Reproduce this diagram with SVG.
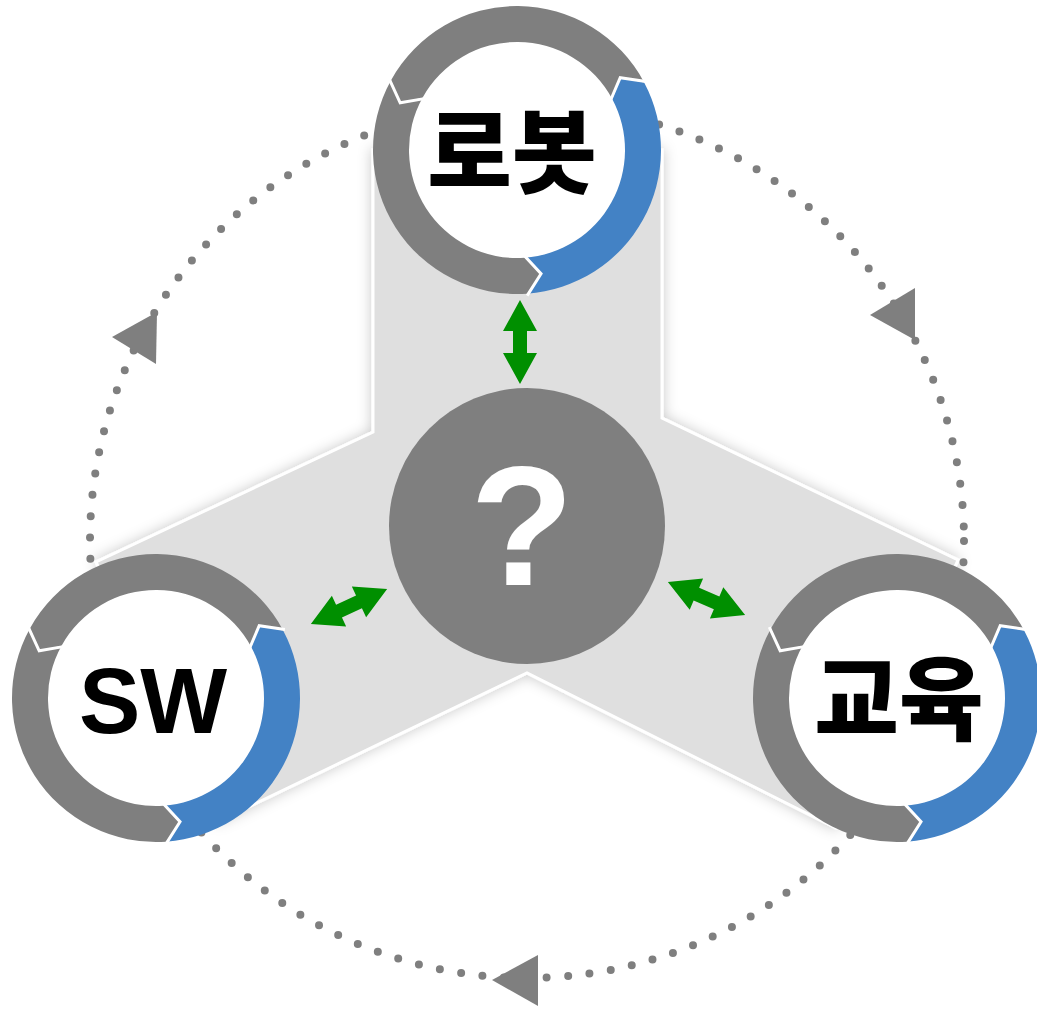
<svg xmlns="http://www.w3.org/2000/svg" xmlns:xlink="http://www.w3.org/1999/xlink" width="1037" height="1009" viewBox="0 0 1037 1009">
<style>
.gray{fill:#7f7f7f}
.blue{fill:#4382c5}
.sep{fill:none;stroke:#ffffff;stroke-width:3;stroke-linejoin:miter}
.disc{fill:#ffffff}
.dots{fill:none;stroke:#7f7f7f;stroke-width:8;stroke-linecap:round;stroke-dasharray:0 21.5}
.tri{fill:#7f7f7f}
.garrow{fill:#008f00}
.ko{font-family:"Noto Sans CJK KR","Noto Sans",sans-serif;font-weight:900;font-size:92px;fill:#000;text-anchor:middle}
.en{font-family:"Liberation Sans",Arial,sans-serif;font-weight:700;font-size:92px;fill:#000;text-anchor:middle}
.q{font-family:"Liberation Sans",Arial,sans-serif;font-weight:700;font-size:170px;fill:#fff;text-anchor:middle}
</style>
<defs>
<filter id="shadow" x="-10%" y="-10%" width="120%" height="120%">
<feGaussianBlur in="SourceAlpha" stdDeviation="7"/>
<feOffset dx="0" dy="0" result="b"/>
<feFlood flood-color="#000" flood-opacity="0.22"/>
<feComposite in2="b" operator="in"/>
<feMerge><feMergeNode/><feMergeNode in="SourceGraphic"/></feMerge>
</filter>
<g id="ring">
<circle class="disc" r="110"/>
<path class="blue" d="M10.05,143.65 A144,144 0 0 0 127.14,-67.60 L103.21,-72.27 L95.36,-50.70 A108,108 0 0 1 7.53,107.74 L24.04,123.69 Z"/>
<path class="gray" d="M127.14,-67.60 A144,144 0 0 0 -125.95,-69.81 L-116.82,-47.20 L-94.46,-52.36 A108,108 0 0 1 95.36,-50.70 L103.21,-72.27 Z"/>
<path class="gray" d="M-125.95,-69.81 A144,144 0 0 0 10.05,143.65 L24.04,123.69 L7.53,107.74 A108,108 0 0 1 -94.46,-52.36 L-116.82,-47.20 Z"/>
<polyline class="sep" points="10.19,145.64 24.04,123.69 7.39,105.74"/>
<polyline class="sep" points="128.91,-68.54 103.21,-72.27 93.59,-49.76"/>
<polyline class="sep" points="-127.70,-70.78 -116.82,-47.20 -92.71,-51.39"/>
</g>
<path id="dbl" class="garrow" d="M-42,0 L-11,-17 L-11,-7 L11,-7 L11,-17 L42,0 L11,17 L11,7 L-11,7 L-11,17 Z"/>
</defs>
<rect width="1037" height="1009" fill="#ffffff"/>
<g id="band">
<polygon points="373,150 662,150 662,418 958,560 836,828 527,673 217,822 96,562 373,432" fill="#dfdfdf" stroke="#ffffff" stroke-width="3" filter="url(#shadow)"/>
</g>
<g id="connectors">
<circle class="dots" cx="527" cy="541" r="437"/>
<polygon class="tri" points="112,337 157,312 156,364"/>
<polygon class="tri" points="870,315 915,288 915,340"/>
<polygon class="tri" points="492,980 538,955 538,1006"/>
<use xlink:href="#dbl" href="#dbl" transform="translate(520,342) rotate(90)"/>
<use xlink:href="#dbl" href="#dbl" transform="translate(349,606.5) rotate(-24.8)"/>
<use xlink:href="#dbl" href="#dbl" transform="translate(706.5,598.5) rotate(23.2)"/>
</g>
<g id="node-robot">
<use xlink:href="#ring" href="#ring" transform="translate(517,150)"/>
<text class="ko" x="512" y="186">로봇</text>
</g>
<g id="node-sw">
<use xlink:href="#ring" href="#ring" transform="translate(156,698)"/>
<text class="en" x="153" y="733">SW</text>
</g>
<g id="node-edu">
<use xlink:href="#ring" href="#ring" transform="translate(897,698)"/>
<text class="ko" x="899" y="733">교육</text>
</g>
<g id="node-center">
<circle cx="527" cy="526" r="138" fill="#7f7f7f"/>
<text class="q" x="522" y="585">?</text>
</g>
</svg>
